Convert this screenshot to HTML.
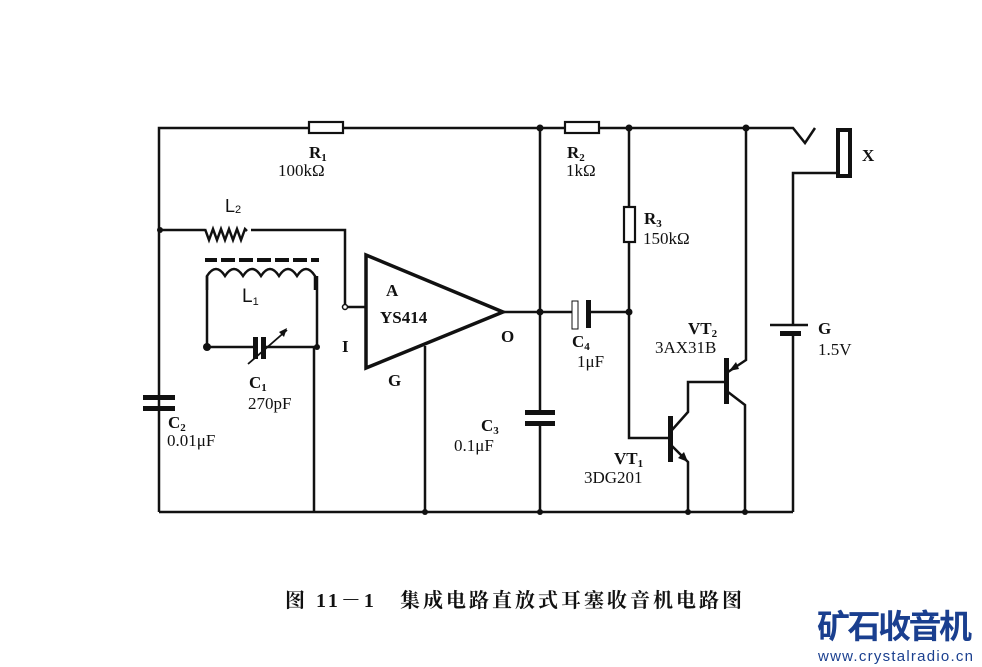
<!DOCTYPE html>
<html><head><meta charset="utf-8"><style>
body{margin:0;background:#fff;width:982px;height:667px;overflow:hidden}
svg{display:block}
text{font-family:"Liberation Serif","Noto Serif CJK SC",serif;fill:#111}
</style></head><body>
<svg width="982" height="667" viewBox="0 0 982 667" xmlns="http://www.w3.org/2000/svg">
<g stroke="#111" stroke-width="2.5" fill="none">
<polyline points="159,512 159,128 309,128"/>
<line x1="343" y1="128" x2="565" y2="128"/>
<polyline points="598,128 793,128 805,143 815,128"/>
<line x1="159" y1="512" x2="793" y2="512"/>
<polyline points="160,230 205,230"/>
<path d="M205,229 l4,11 l4,-11 l4,11 l4,-11 l4,11 l4,-11 l4,11 l4,-11 l4,11 l4,-11 l2,2"/>
<polyline points="251,230 345,230 345,307 366,307"/>
<path d="M207,290 L207,276 q9,-14 18,0 q9,-14 18,0 q9,-14 18,0 q9,-14 18,0 q9,-14 18,0 q9,-14 18,0 L315,290"/>
<polyline points="207,276 207,347 253,347"/>
<polyline points="265,347 317,347 317,276"/>
<line x1="314" y1="347" x2="314" y2="512"/>
<polygon points="366,255 366,368 503,312" stroke-width="3.5"/>
<line x1="503" y1="312" x2="573" y2="312"/>
<line x1="425" y1="346" x2="425" y2="512"/>
<line x1="540" y1="128" x2="540" y2="412"/>
<line x1="540" y1="426" x2="540" y2="512"/>
<line x1="590" y1="312" x2="629" y2="312"/>
<polyline points="629,128 629,207"/>
<polyline points="629,242 629,438 670,438"/>
<polyline points="672,430 688,412 688,382 724,382"/>
<polyline points="672,446 688,462 688,512"/>
<polyline points="728,372 746,360 746,128"/>
<polyline points="728,392 745,405 745,512"/>
<polyline points="838,173 793,173 793,325"/>
<line x1="793" y1="335" x2="793" y2="512"/>
<line x1="770" y1="325" x2="808" y2="325"/>
</g>
<g fill="#111">
<rect x="309" y="122" width="34" height="11" fill="#fff" stroke="#111" stroke-width="2.2"/>
<rect x="565" y="122" width="34" height="11" fill="#fff" stroke="#111" stroke-width="2.2"/>
<rect x="624" y="207" width="11" height="35" fill="#fff" stroke="#111" stroke-width="2.2"/>
<rect x="143" y="395" width="32" height="5"/><rect x="143" y="406" width="32" height="5"/>
<rect x="525" y="410" width="30" height="5"/><rect x="525" y="421" width="30" height="5"/>
<rect x="253" y="337" width="5" height="22"/><rect x="261" y="337" width="5" height="22"/>
<rect x="205" y="258" width="12" height="4"/><rect x="221" y="258" width="14" height="4"/><rect x="239" y="258" width="14" height="4"/><rect x="257" y="258" width="14" height="4"/><rect x="275" y="258" width="14" height="4"/><rect x="293" y="258" width="14" height="4"/><rect x="311" y="258" width="8" height="4"/>
<rect x="572" y="301" width="6" height="28" fill="#fff" stroke="#111" stroke-width="1"/>
<rect x="586" y="300" width="5" height="28"/>
<rect x="668" y="416" width="5" height="46"/>
<rect x="724" y="358" width="5" height="46"/>
<rect x="780" y="331" width="21" height="5"/>
<rect x="838" y="130" width="12" height="46" fill="#fff" stroke="#111" stroke-width="4"/>
<circle cx="160" cy="230" r="3"/><circle cx="207" cy="347" r="4"/><circle cx="317" cy="347" r="3"/>
<circle cx="540" cy="128" r="3.5"/><circle cx="629" cy="128" r="3.5"/><circle cx="746" cy="128" r="3.5"/>
<circle cx="540" cy="312" r="3.5"/><circle cx="629" cy="312" r="3.5"/>
<circle cx="425" cy="512" r="3"/><circle cx="540" cy="512" r="3"/><circle cx="688" cy="512" r="3"/><circle cx="745" cy="512" r="3"/>
<circle cx="345" cy="307" r="2.5" fill="#fff" stroke="#111" stroke-width="1.5"/>
<polygon points="688,462 678,458 684,452"/>
<polygon points="729,371 736,362 739,369"/>
<polygon points="287,328 279,332 284,337"/>
</g>
<line x1="248" y1="364" x2="287" y2="330" stroke="#111" stroke-width="1.8"/>
<g font-size="17" font-weight="bold">
<text x="309" y="158">R<tspan font-size="11" dy="3">1</tspan></text>
<text x="278" y="176" font-weight="normal">100kΩ</text>
<text x="567" y="158">R<tspan font-size="11" dy="3">2</tspan></text>
<text x="566" y="176" font-weight="normal">1kΩ</text>
<text x="644" y="224">R<tspan font-size="11" dy="3">3</tspan></text>
<text x="643" y="244" font-weight="normal">150kΩ</text>
<text x="225" y="212" style="font-family:'Liberation Sans',sans-serif" font-size="18" font-weight="normal">L<tspan font-size="11" dy="1">2</tspan></text>
<text x="242" y="302" style="font-family:'Liberation Sans',sans-serif" font-weight="normal" font-size="19">L<tspan font-size="11" dy="3">1</tspan></text>
<text x="386" y="296">A</text>
<text x="380" y="323">YS414</text>
<text x="342" y="352">I</text>
<text x="388" y="386">G</text>
<text x="501" y="342">O</text>
<text x="249" y="388">C<tspan font-size="11" dy="3">1</tspan></text>
<text x="248" y="409" font-weight="normal">270pF</text>
<text x="168" y="428">C<tspan font-size="11" dy="3">2</tspan></text>
<text x="167" y="446" font-weight="normal">0.01μF</text>
<text x="481" y="431">C<tspan font-size="11" dy="3">3</tspan></text>
<text x="454" y="451" font-weight="normal">0.1μF</text>
<text x="572" y="347">C<tspan font-size="11" dy="3">4</tspan></text>
<text x="577" y="367" font-weight="normal">1μF</text>
<text x="688" y="334">VT<tspan font-size="11" dy="3">2</tspan></text>
<text x="655" y="353" font-weight="normal">3AX31B</text>
<text x="614" y="464">VT<tspan font-size="11" dy="3">1</tspan></text>
<text x="584" y="483" font-weight="normal">3DG201</text>
<text x="818" y="334">G</text>
<text x="818" y="355" font-weight="normal">1.5V</text>
<text x="862" y="161">X</text>
</g>
<text x="285" y="607" font-size="20" font-weight="bold" textLength="457">图 11－1　集成电路直放式耳塞收音机电路图</text>
<text x="817" y="638" font-size="33" font-weight="bold" textLength="155" style="fill:#1a3f8f;font-family:'Noto Sans CJK SC',sans-serif">矿石收音机</text>
<text x="818" y="661" font-size="15" textLength="155" style="fill:#1a3f8f;font-family:'Liberation Sans',sans-serif">www.crystalradio.cn</text>
</svg>
</body></html>
